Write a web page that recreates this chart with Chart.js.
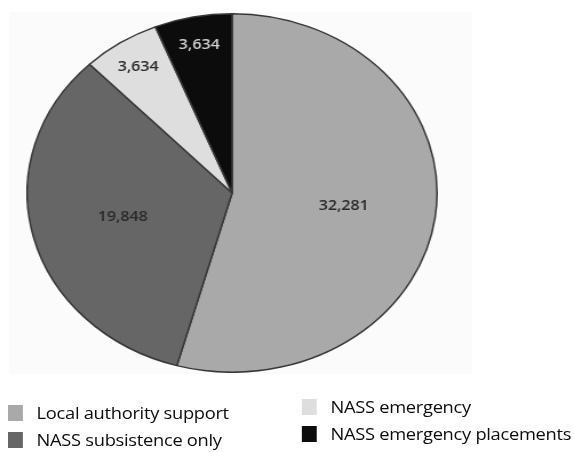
<!DOCTYPE html>
<html>
<head>
<meta charset="utf-8">
<script src="https://cdn.jsdelivr.net/npm/chart.js@4/dist/chart.umd.min.js"></script>
<style>
  html, body { margin: 0; padding: 0; background: #ffffff; }
  body { width: 574px; height: 452px; overflow: hidden; position: relative; }
  /* the figure is drawn at a narrower width and stretched horizontally */
  #stage {
    position: absolute; left: 0; top: 0;
    width: 502px; height: 452px;
    transform: scaleX(1.1434); transform-origin: 0 0;
    font-family: "Open Sans", "Noto Sans", sans-serif;
  }
  #panel { position: absolute; left: 8px; top: 12px; width: 405px; height: 362px; background: #fbfbfb; }
  #pieBox { position: absolute; left: 23px; top: 13px; width: 360px; height: 360px; }
  .item { position: absolute; display: flex; align-items: center; white-space: nowrap;
          font-size: 16px; letter-spacing: -0.25px; color: #0c0c0c; }
  .swatch { width: 13px; height: 16px; margin-right: 12px; }
</style>
</head>
<body>
<div id="stage">
  <div id="panel"></div>
  <div id="pieBox"><canvas id="pie" width="360" height="360"></canvas></div>
  <div id="legend"></div>
</div>
<script>
// Supported asylum seekers by type of support
const categories = ["Local authority support", "NASS subsistence only", "NASS emergency", "NASS emergency placements"];
const counts = [32281, 19848, 3634, 3634];
const sliceColors = ["#a9a9a9", "#666666", "#dedede", "#0c0c0c"];
const labelColors = ["#2a2a2a", "#2a2a2a", "#2a2a2a", "#cfcfcf"];

// value labels written inside each slice
const sliceValueLabels = {
  id: "sliceValueLabels",
  afterDatasetsDraw(chart) {
    const ctx = chart.ctx;
    const meta = chart.getDatasetMeta(0);
    ctx.save();
    ctx.font = "600 14px 'Open Sans', 'Noto Sans', sans-serif";
    ctx.textAlign = "center";
    ctx.textBaseline = "middle";
    meta.data.forEach((arc, i) => {
      const p = arc.getProps(["x", "y", "startAngle", "endAngle", "outerRadius"], true);
      const span = p.endAngle - p.startAngle;
      const mid = (p.startAngle + p.endAngle) / 2;
      const frac = span < 0.8 ? 0.84 : 0.55;
      const x = p.x + Math.cos(mid) * p.outerRadius * frac;
      const y = p.y + Math.sin(mid) * p.outerRadius * frac;
      ctx.fillStyle = labelColors[i];
      ctx.fillText(counts[i].toLocaleString("en-US"), x, y);
    });
    ctx.restore();
  }
};

new Chart(document.getElementById("pie"), {
  type: "pie",
  data: {
    labels: categories,
    datasets: [{
      data: counts,
      backgroundColor: sliceColors,
      borderColor: "#383838",
      borderWidth: 1.5
    }]
  },
  options: {
    responsive: false,
    animation: false,
    layout: { padding: 0 },
    plugins: {
      legend: { display: false },
      tooltip: { enabled: false }
    }
  },
  plugins: [sliceValueLabels]
});

// two-column legend, filled top to bottom
const legendCols = [7, 264];
const legendRows = [402, 429];
const colShift = [0, -6];
const legend = document.getElementById("legend");
categories.forEach((name, i) => {
  const col = Math.floor(i / 2), row = i % 2;
  const item = document.createElement("div");
  item.className = "item";
  item.style.left = legendCols[col] + "px";
  item.style.top = (legendRows[row] + colShift[col]) + "px";
  const sw = document.createElement("span");
  sw.className = "swatch";
  sw.style.background = sliceColors[i];
  const tx = document.createElement("span");
  tx.textContent = name;
  item.appendChild(sw);
  item.appendChild(tx);
  legend.appendChild(item);
});
</script>
</body>
</html>
